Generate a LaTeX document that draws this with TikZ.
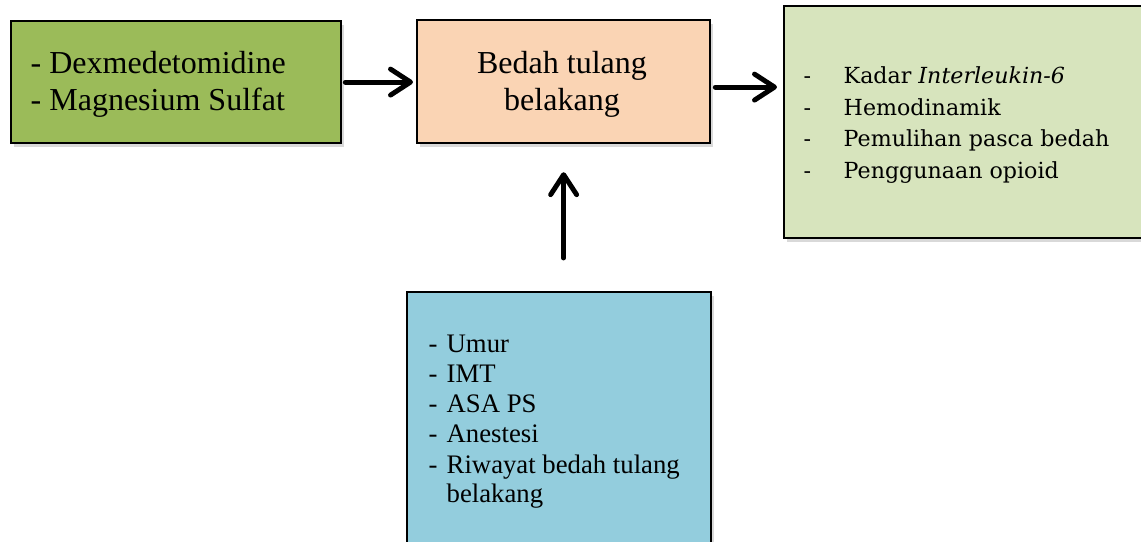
\documentclass[tikz,border=0pt]{standalone}
\usepackage{fontspec}
\setmainfont{Liberation Serif}
\newfontfamily\hasilfont{DejaVu Serif}
\usetikzlibrary{arrows.meta}
\usetikzlibrary{shadows}
\definecolor{hijau}{HTML}{9BBB59}
\definecolor{krem}{HTML}{FAD4B4}
\definecolor{hijaumuda}{HTML}{D7E4BD}
\definecolor{biru}{HTML}{93CDDD}
\tikzset{
  kotak/.style={draw=black, line width=0.6pt, anchor=north west, inner sep=0pt,
    drop shadow={shadow xshift=0.025cm, shadow yshift=-0.035cm, opacity=0.25, fill=black!60}},
  baris/.style={anchor=base west, inner sep=0pt},
  panah/.style={line width=1.4pt, line cap=round,
    -{Straight Barb[length=0.2cm, width=0.26cm, line cap=round, line join=round]}}
}

\begin{document}
\begin{tikzpicture}[x=0.01cm,y=-0.01cm]
  \useasboundingbox (0,0) rectangle (1141,542);
  % kotak
  \node[kotak, fill=hijau, minimum width=3.30cm, minimum height=1.22cm] (obat) at (10,20) {};
  \node[kotak, fill=krem, minimum width=2.93cm, minimum height=1.23cm] (bedah) at (416,19) {};
  \node[kotak, fill=hijaumuda, minimum width=3.70cm, minimum height=2.32cm] (hasil) at (783,5) {};
  \node[kotak, fill=biru, minimum width=3.04cm, minimum height=2.80cm] (faktor) at (406,291) {};
  % teks
  \begin{scope}[font=\fontsize{9.1}{10.5}\selectfont]
    \node[baris] (o1) at (30,73) {- Dexmedetomidine};
    \node[baris] (o2) at (30,110) {- Magnesium Sulfat};
    \node[anchor=base, inner sep=0pt] (b1) at (562,73) {Bedah tulang};
    \node[anchor=base, inner sep=0pt] (b2) at (562,110) {belakang};
  \end{scope}
  \begin{scope}[font=\fontsize{6.3}{7}\hasilfont]
    \foreach \t [count=\i] in {Kadar \textit{Interleukin-6}, Hemodinamik,
        Pemulihan pasca bedah, Penggunaan opioid}{
      \node[baris] (hs\i) at (803,52+31.5*\i) {-};
      \node[baris] (h\i) at (843,52+31.5*\i) {\t};
    }
  \end{scope}
  \begin{scope}[font=\fontsize{7.6}{8.5}\selectfont]
    \foreach \t [count=\i] in {Umur, IMT, ASA PS, Anestesi, Riwayat bedah tulang}{
      \node[baris] (fs\i) at (428,322+30.2*\i) {-};
      \node[baris] (f\i) at (446,322+30.2*\i) {\t};
    }
    \node[baris] (f6) at (446,502) {belakang};
  \end{scope}
  % panah
  \draw[panah, shorten <=0.03cm, shorten >=0.03cm] (obat.east) -- (obat.east -| bedah.west);
  \draw[panah, shorten <=0.04cm, shorten >=0.06cm] ([yshift=-0.055cm]bedah.east) -- ([yshift=-0.055cm]bedah.east -| hasil.west);
  \draw[panah, shorten <=0.33cm, shorten >=0.28cm] (faktor.north -| bedah.south) -- (bedah.south);
\end{tikzpicture}
\end{document}
